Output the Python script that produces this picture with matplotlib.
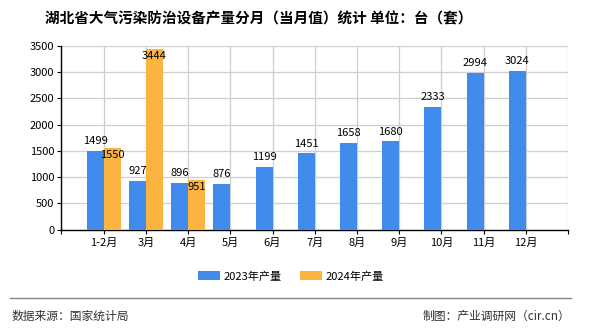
import matplotlib.pyplot as plt
import numpy as np

plt.rcParams['font.family'] = ['Noto Sans CJK SC', 'DejaVu Sans']

# data
months = ['1-2月', '3月', '4月', '5月', '6月', '7月', '8月', '9月', '10月', '11月', '12月']
prod_2023 = [1499, 927, 896, 876, 1199, 1451, 1658, 1680, 2333, 2994, 3024]
prod_2024 = [1550, 3444, 951]

blue = '#418BEC'
orange = '#FBB440'
w = 0.4

fig = plt.figure(figsize=(5.9, 3.3), dpi=100)
ax = fig.add_axes([0.1042, 0.3045, 0.8585, 0.5561])

x = np.arange(len(months))
x24 = np.arange(len(prod_2024))
b1 = ax.bar(x - w / 2, prod_2023, w, color=blue, label='2023年产量', zorder=3)
b2 = ax.bar(x24 + w / 2, prod_2024, w, color=orange, label='2024年产量', zorder=3)

for xi, v in zip(x, prod_2023):
    ax.text(xi - w / 2, v + 90, str(v), ha='center', va='bottom', fontsize=8, color='black', zorder=4)
for xi, v in zip(x24, prod_2024):
    ax.text(xi + w / 2, v - 40, str(v), ha='center', va='top', fontsize=8, color='black', zorder=4)

ax.set_xlim(-1, len(months))
ax.set_ylim(0, 3500)
ax.set_yticks(np.arange(0, 3501, 500))
ax.set_xticks(np.arange(-1, len(months) + 1))
ax.set_xticklabels([''] + months + [''])
ax.tick_params(axis='both', labelsize=8, length=3, color='black', pad=2)
ax.tick_params(axis='x', pad=3)
ax.grid(True, color='#cfcfcf', linewidth=0.9, zorder=0)
ax.set_axisbelow(True)
for s in ['top', 'right']:
    ax.spines[s].set_visible(False)
for s in ['left', 'bottom']:
    ax.spines[s].set_color('black')
    ax.spines[s].set_linewidth(1)

fig.text(0.076, 0.945, '湖北省大气污染防治设备产量分月（当月值）统计 单位：台（套）',
         fontsize=10.5, fontweight='bold', ha='left', va='center')

fig.legend(handles=[b1, b2], loc='center', bbox_to_anchor=(0.493, 0.163), ncol=2,
           frameon=False, fontsize=8, handlelength=2.0, handleheight=0.8,
           columnspacing=1.6, handletextpad=0.3)

fig.add_artist(plt.Line2D([0.017, 0.968], [0.097, 0.097], color='#888888', linewidth=1))
fig.text(0.02, 0.042, '数据来源：国家统计局', fontsize=8.5, color='#333333', ha='left', va='center')
fig.text(0.966, 0.040, '制图：产业调研网（cir.cn）', fontsize=8.5, color='#333333', ha='right', va='center')

fig.savefig('out.png', dpi=100)
